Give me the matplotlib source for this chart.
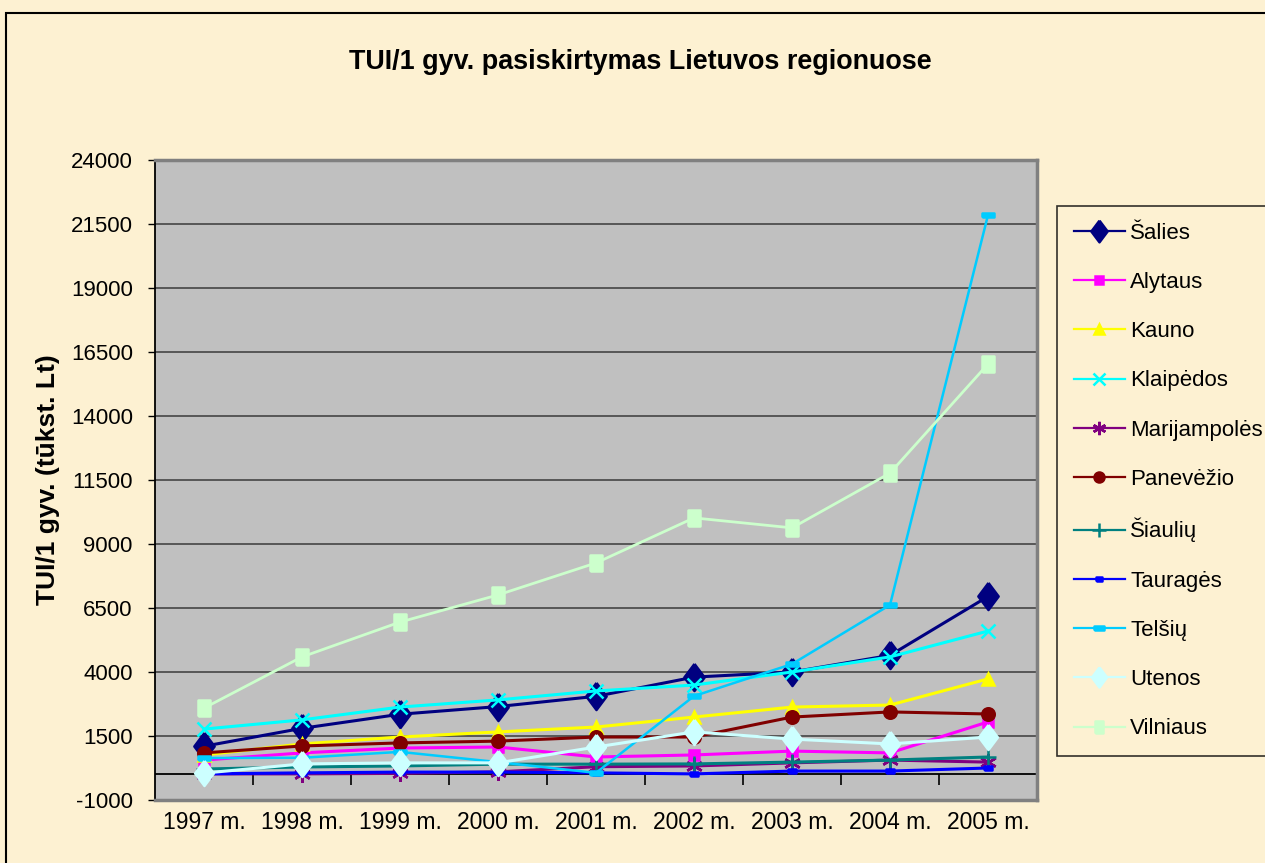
import matplotlib.pyplot as plt
from matplotlib.patches import Rectangle

plt.rcParams['axes.unicode_minus'] = False

# Chart data
years = ['1997 m.', '1998 m.', '1999 m.', '2000 m.', '2001 m.',
         '2002 m.', '2003 m.', '2004 m.', '2005 m.']
salies = [1100, 1800, 2350, 2650, 3050, 3800, 4000, 4650, 6950]
alytaus = [560, 840, 1030, 1070, 680, 760, 910, 840, 2050]
kauno = [760, 1190, 1460, 1660, 1850, 2240, 2630, 2710, 3730]
klaipedos = [1770, 2130, 2630, 2910, 3260, 3490, 4000, 4590, 5600]
marijampoles = [20, 20, 40, 100, 300, 330, 450, 560, 480]
panevezio = [840, 1110, 1230, 1300, 1460, 1460, 2240, 2440, 2360]
siauliu = [210, 290, 330, 400, 400, 410, 480, 560, 680]
taurages = [20, 60, 90, 90, 60, 20, 130, 130, 250]
telsiu = [640, 650, 880, 480, 60, 3060, 4310, 6620, 21850]
utenos = [50, 410, 450, 450, 1070, 1660, 1380, 1190, 1460]
vilniaus = [2590, 4590, 5950, 7010, 8260, 10020, 9630, 11770, 16030]

FONT = ['Liberation Sans', 'DejaVu Sans']
BG = '#FDF1D2'

# marker shapes similar to the old spreadsheet ones
diamond = [(0, 1), (0.75, 0), (0, -1), (-0.75, 0), (0, 1)]
tall_sq = [(-0.73, -1), (0.73, -1), (0.73, 1), (-0.73, 1), (-0.73, -1)]
dash = [(-1, -0.38), (1, -0.38), (1, 0.38), (-1, 0.38), (-1, -0.38)]
small_dash = [(-1, -0.5), (1, -0.5), (1, 0.5), (-1, 0.5), (-1, -0.5)]

series = [
    ('Šalies', salies, '#000080', diamond, 19.5, 2.2),
    ('Alytaus', alytaus, '#FF00FF', 's', 7, 2.2),
    ('Kauno', kauno, '#FFFF00', '^', 9, 2.2),
    ('Klaipėdos', klaipedos, '#00FFFF', 'x', 10, 2.2),
    ('Marijampolės', marijampoles, '#800080', (6, 2, 0), 12, 2.2),
    ('Panevėžio', panevezio, '#800000', 'o', 9, 2.2),
    ('Šiaulių', siauliu, '#008080', '+', 12, 2.2),
    ('Tauragės', taurages, '#0000FF', small_dash, 6, 2.2),
    ('Telšių', telsiu, '#00CCFF', dash, 8.6, 1.8),
    ('Utenos', utenos, '#CCFFFF', diamond, 18, 2.2),
    ('Vilniaus', vilniaus, '#CCFFCC', tall_sq, 11, 2.0),
]

fig = plt.figure(figsize=(12.65, 8.63), dpi=100, facecolor=BG)
ax = fig.add_axes([155 / 1265, 63 / 863, 882 / 1265, 640 / 863])
ax.set_facecolor('#C0C0C0')

x = list(range(len(years)))
for name, vals, col, mk, ms, lw in series:
    ax.plot(x, vals, color=col, marker=mk, markersize=ms, linewidth=lw,
            markeredgecolor=col, markerfacecolor=col, markeredgewidth=1.8,
            label=name, zorder=3)

ax.set_xlim(-0.5, len(years) - 0.5)
ax.set_ylim(-1000, 24000)
ax.set_yticks(range(-1000, 24001, 2500))
ax.grid(axis='y', color='#3a3a3a', linewidth=1.1, zorder=1)
ax.axhline(0, color='black', linewidth=1.3, zorder=2)

ax.set_xticks(x)
ax.set_xticklabels(years, family=FONT, fontsize=16.5)
ax.tick_params(axis='x', length=0, pad=8)
ax.tick_params(axis='y', length=5, width=1, direction='out', pad=11,
               labelsize=16)
for lbl in ax.get_yticklabels():
    lbl.set_family(FONT)

# category boundary ticks on the zero line
sec = ax.secondary_xaxis(1000 / 25000)
sec.set_xticks([i + 0.5 for i in range(len(years) - 1)])
sec.tick_params(length=8, width=1.2, direction='out', labelbottom=False,
                color='black')
sec.spines['bottom'].set_visible(False)

for side in ['top', 'right', 'bottom']:
    ax.spines[side].set_color('#808080')
    ax.spines[side].set_linewidth(2.5)
ax.spines['left'].set_color('black')
ax.spines['left'].set_linewidth(1.3)

ax.set_ylabel('TUI/1 gyv. (tūkst. Lt)', family=FONT, fontsize=19,
              fontweight='bold', labelpad=8)
fig.text(640 / 1265, 1 - 62 / 863, 'TUI/1 gyv. pasiskirtymas Lietuvos regionuose',
         ha='center', va='center', family=FONT, fontsize=19.4,
         fontweight='bold')

leg = fig.legend(loc='upper left', bbox_to_anchor=(1057 / 1265, 1 - 206 / 863),
                 prop={'family': FONT, 'size': 16}, frameon=True,
                 fancybox=False, edgecolor='black', facecolor=BG,
                 handlelength=2.3, labelspacing=1.27, borderpad=0.75,
                 handletextpad=0.25, markerscale=0.8, borderaxespad=0)
leg.get_frame().set_linewidth(1.2)
for h in leg.get_lines():
    h.set_linewidth(1.6)

fig.patches.append(Rectangle((6 / 1265, -0.1), 1.2, 1.1 - 13 / 863,
                             transform=fig.transFigure, fill=False,
                             edgecolor='black', linewidth=1.5))

fig.savefig('out.png', dpi=100, facecolor=BG)
